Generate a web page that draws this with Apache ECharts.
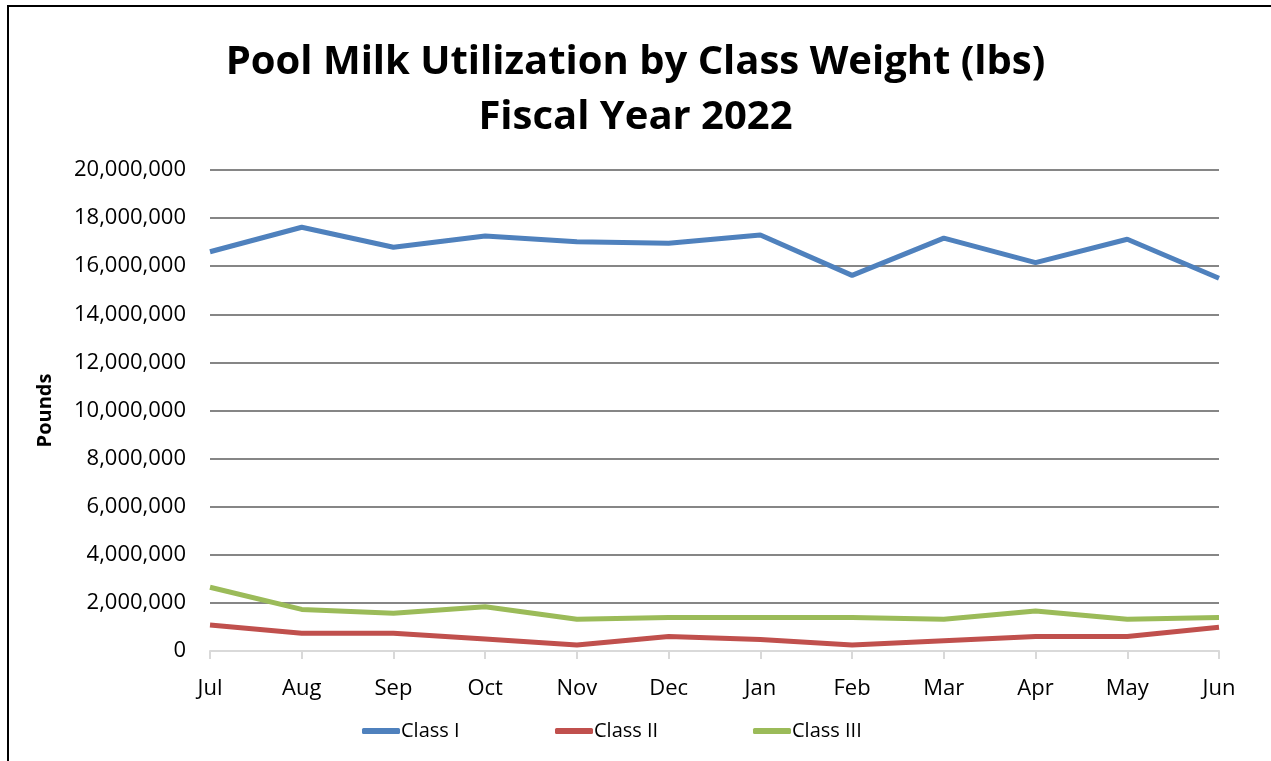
<!DOCTYPE html>
<html>
<head>
<meta charset="utf-8">
<script src="https://cdn.jsdelivr.net/npm/echarts@6/dist/echarts.min.js"></script>
<style>
html,body{margin:0;padding:0;background:#fff;}
#c{width:1271px;height:761px;}
</style>
</head>
<body>
<div id="c"></div>
<script>
var months = ['Jul','Aug','Sep','Oct','Nov','Dec','Jan','Feb','Mar','Apr','May','Jun'];
var classI   = [16600000,17620000,16790000,17260000,17020000,16950000,17300000,15620000,17170000,16150000,17120000,15500000];
var classII  = [1080000,740000,740000,500000,250000,600000,480000,250000,430000,600000,600000,990000];
var classIII = [2650000,1730000,1570000,1840000,1320000,1390000,1390000,1390000,1320000,1660000,1320000,1390000];
var seriesNames = ['Class I','Class II','Class III'];
var colors = ['#4f81bd','#c0504d','#9bbb59'];

var font = 'Open Sans';
var legendLeft = [357, 550, 748];
function mkLegend(i){
  return {
    left:legendLeft[i], top:716, itemWidth:38, itemHeight:6, icon:'roundRect',
    textStyle:{fontFamily:font,fontSize:20,color:'#000',padding:[0,0,0,-4]},
    data:[seriesNames[i]]
  };
}
var chart = echarts.init(document.getElementById('c'));
chart.setOption({
  animation:false,
  backgroundColor:'#fff',
  graphic:[{type:'rect',shape:{x:8,y:6,width:1400,height:900},style:{fill:'none',stroke:'#000',lineWidth:2},z:100}],
  title:{
    text:'Pool Milk Utilization by Class Weight (lbs)\nFiscal Year 2022',
    left:'center', top:30,
    textStyle:{fontFamily:font,fontWeight:'bold',fontSize:40,lineHeight:55,color:'#000'}
  },
  legend:[mkLegend(0),mkLegend(1),mkLegend(2)],
  grid:{left:210,right:52,top:170,bottom:110},
  xAxis:{
    type:'category', data:months, boundaryGap:false,
    axisLine:{lineStyle:{color:'#d9d9d9',width:2}},
    axisTick:{show:true,length:8,lineStyle:{color:'#d9d9d9',width:2}},
    axisLabel:{fontFamily:font,fontSize:22,color:'#000',margin:27},
    splitLine:{show:false}
  },
  yAxis:{
    type:'value', min:0, max:20000000, interval:2000000,
    name:'Pounds', nameLocation:'middle', nameGap:155, nameRotate:90,
    nameTextStyle:{fontFamily:font,fontWeight:'bold',fontSize:20,color:'#000'},
    axisLine:{show:false}, axisTick:{show:false},
    axisLabel:{fontFamily:font,fontSize:22,color:'#000',margin:24,
      formatter:function(v){return v.toLocaleString('en-US');}},
    splitLine:{lineStyle:{color:'#868686',width:2}}
  },
  series:[
    {name:seriesNames[0],type:'line',data:classI,color:colors[0],symbol:'none',lineStyle:{width:5}},
    {name:seriesNames[1],type:'line',data:classII,color:colors[1],symbol:'none',lineStyle:{width:5}},
    {name:seriesNames[2],type:'line',data:classIII,color:colors[2],symbol:'none',lineStyle:{width:5}}
  ]
});
</script>
</body>
</html>
